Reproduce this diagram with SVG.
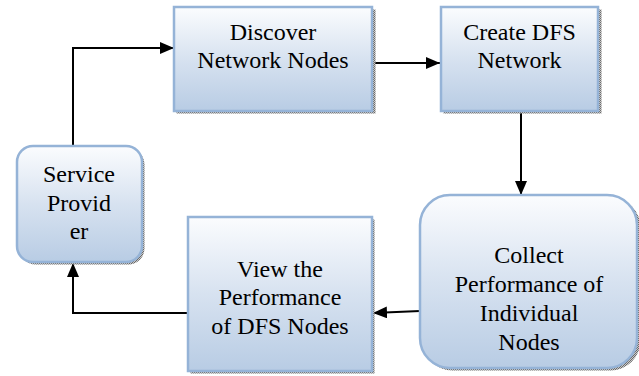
<svg xmlns="http://www.w3.org/2000/svg" width="639" height="376" viewBox="0 0 639 376">
<defs>
<linearGradient id="g" x1="0" y1="0" x2="0" y2="1">
<stop offset="0" stop-color="#fbfcfe"/>
<stop offset="0.5" stop-color="#d7e2f0"/>
<stop offset="1" stop-color="#b8cce4"/>
</linearGradient>
<pattern id="sh" width="2" height="2" patternUnits="userSpaceOnUse">
<rect width="2" height="2" fill="#c8c8c8"/>
<rect width="1" height="1" fill="#6a6a6a"/>
<rect x="1" y="1" width="1" height="1" fill="#6a6a6a"/>
</pattern>
<marker id="ah" viewBox="0 0 14 12" markerWidth="14" markerHeight="12" refX="14" refY="6" orient="auto" markerUnits="userSpaceOnUse">
<path d="M0,0 L14,6 L0,12 Z" fill="#000"/>
</marker>
</defs>
<style>
.box{fill:url(#g);stroke:#95b3d7;stroke-width:2.5}
.shadow{fill:url(#sh)}
.t{font-family:"Liberation Serif","Times New Roman",Times,serif;font-size:24px;fill:#000;text-anchor:middle}
.c{fill:none;stroke:#000;stroke-width:2;marker-end:url(#ah)}
</style>
<g id="connectors">
<path class="c" d="M73,146 V48 H174"/>
<path class="c" d="M372,63 H440"/>
<path class="c" d="M521,111 V195"/>
<path class="c" d="M420,311 L373,313"/>
<path class="c" d="M188,313 H73 V263"/>
</g>
<g id="discover">
<rect class="shadow" x="176.5" y="9.5" width="199" height="104"/>
<rect class="box" x="174" y="7" width="198" height="104"/>
<text class="t" x="273" y="40">Discover</text>
<text class="t" x="273" y="68">Network Nodes</text>
</g>
<g id="create">
<rect class="shadow" x="443.5" y="9.5" width="158" height="104"/>
<rect class="box" x="441" y="7" width="157" height="104"/>
<text class="t" x="519.5" y="40">Create DFS</text>
<text class="t" x="519.5" y="68">Network</text>
</g>
<g id="collect">
<rect class="shadow" x="422.5" y="197.5" width="218" height="173" rx="30"/>
<rect class="box" x="420" y="195" width="217" height="173" rx="30"/>
<text class="t" x="529" y="263">Collect</text>
<text class="t" x="529" y="292">Performance of</text>
<text class="t" x="529" y="321">Individual</text>
<text class="t" x="529" y="350">Nodes</text>
</g>
<g id="view">
<rect class="shadow" x="190.5" y="219.5" width="184" height="154"/>
<rect class="box" x="188" y="217" width="184" height="154"/>
<text class="t" x="280" y="277">View the</text>
<text class="t" x="280" y="305">Performance</text>
<text class="t" x="280" y="334">of DFS Nodes</text>
</g>
<g id="service">
<rect class="shadow" x="19.5" y="148.5" width="125" height="116" rx="16"/>
<rect class="box" x="17" y="146" width="125" height="116" rx="16"/>
<text class="t" x="79" y="182">Service</text>
<text class="t" x="79" y="211">Provid</text>
<text class="t" x="79" y="239">er</text>
</g>
</svg>
